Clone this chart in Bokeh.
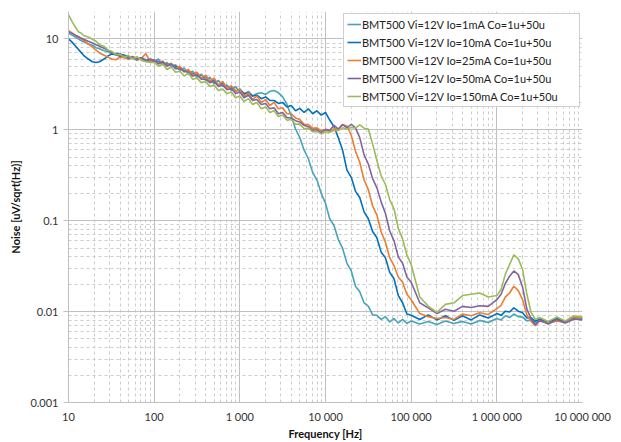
from bokeh.plotting import figure
from bokeh.models import (FixedTicker, CustomJSTickFormatter, Legend, LegendItem,
                          Range1d, ColumnDataSource, InlineStyleSheet)
from bokeh.embed import file_html
from bokeh.resources import INLINE

# ---------------- data ----------------
freq = [10, 11, 12, 13, 14, 15, 17, 19, 21, 23, 26, 29, 32, 36, 40, 45, 50, 56, 63, 71, 80, 90,
        100, 112, 126, 141, 158, 178, 200, 224, 251, 282, 316, 355, 398, 447, 501, 562, 631, 708, 794, 891,
        1000, 1120, 1260, 1410, 1580, 1780, 2000, 2240, 2510, 2820, 3160, 3550, 3980, 4470, 5010, 5620, 6310, 7080, 7940, 8910,
        10000, 11200, 12600, 14100, 15800, 17800, 20000, 22400, 25100, 28200, 31600, 35500, 39800, 44700, 50100, 56200, 63100, 70800, 79400, 89100,
        100000, 126000, 158000, 200000, 251000, 316000, 398000, 501000, 631000, 794000,
        1000000, 1120000, 1260000, 1410000, 1580000, 1780000, 2000000, 2240000, 2510000, 2820000, 3160000, 3980000, 5010000, 6310000, 7940000, 10000000]

noise_io1 = [11.5, 11.0, 10.5, 10.0, 9.6, 9.3, 8.8, 8.5, 8.0, 7.8, 7.4, 7.2, 6.9, 6.6, 6.7, 6.3, 6.0, 6.2, 5.8, 6.1, 5.7, 5.9,
             5.6, 6.0, 5.2, 5.5, 4.9, 5.2, 4.5, 4.8, 4.1, 4.4, 3.8, 4.1, 3.5, 3.8, 3.2, 3.5, 3.0, 3.1, 2.7, 3.0,
             2.6, 2.45, 2.65, 2.35, 2.5, 2.55, 2.45, 2.65, 2.7, 2.55, 2.3, 1.9, 1.42, 1.02, 0.82, 0.6, 0.48, 0.34, 0.28, 0.2,
             0.155, 0.105, 0.088, 0.062, 0.05, 0.034, 0.028, 0.019, 0.0165, 0.0125, 0.0115, 0.0092, 0.0091, 0.0082, 0.0088, 0.0077, 0.0084, 0.0075, 0.0082, 0.0074,
             0.0079, 0.0073, 0.0078, 0.0072, 0.0079, 0.0074, 0.0078, 0.0073, 0.008, 0.0076,
             0.0084, 0.0081, 0.009, 0.0086, 0.0094, 0.0088, 0.0087, 0.0079, 0.0081, 0.0075, 0.008, 0.0074, 0.008, 0.0076, 0.0083, 0.0082]

noise_io10 = [10.0, 9.2, 8.4, 7.7, 7.1, 6.6, 6.0, 5.6, 5.5, 5.6, 6.0, 6.5, 6.8, 6.9, 6.8, 6.6, 6.4, 6.1, 6.0, 6.2, 5.8, 5.7,
              5.8, 5.6, 5.5, 5.2, 5.3, 4.9, 4.9, 4.4, 4.5, 4.1, 4.2, 3.7, 3.9, 3.4, 3.6, 3.1, 3.3, 2.9, 3.0, 2.65,
              2.8, 2.5, 2.55, 2.35, 2.4, 2.2, 2.3, 2.1, 2.1, 1.95, 2.0, 1.78, 1.85, 1.62, 1.72, 1.55, 1.7, 1.5, 1.62, 1.45,
              1.55, 1.28, 1.08, 0.82, 0.6, 0.36, 0.3, 0.21, 0.18, 0.125, 0.105, 0.076, 0.065, 0.045, 0.039, 0.027, 0.023, 0.015, 0.0125, 0.0094,
              0.0091, 0.0082, 0.0092, 0.0081, 0.009, 0.008, 0.009, 0.0081, 0.0092, 0.0085,
              0.0095, 0.0091, 0.0101, 0.0099, 0.011, 0.0101, 0.0097, 0.0085, 0.0086, 0.0078, 0.0083, 0.0076, 0.0084, 0.0077, 0.0086, 0.0085]

noise_io25 = [12.3, 11.6, 11.0, 10.4, 10.0, 9.6, 8.8, 8.1, 7.5, 7.0, 6.6, 6.3, 6.0, 5.9, 6.3, 6.2, 6.0, 6.3, 5.9, 6.1, 6.9, 5.6,
              5.9, 5.4, 5.7, 5.1, 5.4, 4.7, 5.0, 4.3, 4.6, 4.0, 4.3, 3.7, 4.0, 3.4, 3.7, 3.1, 3.4, 2.85, 3.05, 2.65,
              2.8, 2.35, 2.55, 2.15, 2.35, 2.0, 2.15, 1.85, 2.0, 1.7, 1.75, 1.5, 1.5, 1.35, 1.3, 1.15, 1.14, 1.04, 1.05, 0.98,
              1.0, 0.96, 1.03, 1.01, 1.14, 1.1, 0.87, 0.58, 0.44, 0.28, 0.22, 0.145, 0.115, 0.075, 0.058, 0.039, 0.032, 0.024, 0.021, 0.0155,
              0.0135, 0.0095, 0.0088, 0.0084, 0.0086, 0.0082, 0.0094, 0.009, 0.0097, 0.0093,
              0.0108, 0.0117, 0.0145, 0.016, 0.019, 0.017, 0.0135, 0.0092, 0.0078, 0.007, 0.0079, 0.0075, 0.0079, 0.0076, 0.0085, 0.0086]

noise_io50 = [12.0, 11.5, 11.0, 10.6, 10.2, 9.9, 9.4, 9.0, 8.6, 8.3, 7.9, 7.5, 7.1, 6.7, 6.4, 6.6, 6.1, 6.4, 6.0, 6.2, 5.8, 6.0,
              5.8, 5.3, 5.6, 5.0, 5.3, 4.7, 4.7, 4.4, 4.3, 3.9, 4.0, 3.6, 3.6, 3.3, 3.4, 3.0, 3.1, 2.75, 2.85, 2.5,
              2.6, 2.25, 2.4, 2.1, 2.15, 1.9, 1.95, 1.7, 1.75, 1.5, 1.55, 1.36, 1.35, 1.26, 1.22, 1.12, 1.08, 0.99, 1.0, 0.93,
              1.01, 0.99, 1.12, 1.02, 1.14, 1.05, 1.15, 1.05, 0.82, 0.53, 0.42, 0.29, 0.23, 0.16, 0.12, 0.077, 0.06, 0.04, 0.034, 0.024,
              0.021, 0.0125, 0.011, 0.0095, 0.0106, 0.0101, 0.0114, 0.0111, 0.0116, 0.0114,
              0.0135, 0.0155, 0.0205, 0.0245, 0.028, 0.0255, 0.0185, 0.0107, 0.0083, 0.0071, 0.0081, 0.0073, 0.0082, 0.0075, 0.0083, 0.0081]

noise_io150 = [18.4, 15.5, 13.5, 12.0, 11.6, 10.9, 10.5, 9.9, 9.4, 8.6, 8.3, 7.5, 7.3, 6.7, 6.8, 6.2, 6.6, 6.0, 6.4, 5.8, 5.6, 5.5,
               5.5, 5.0, 5.3, 4.6, 4.9, 4.3, 4.4, 3.9, 4.2, 3.6, 3.7, 3.3, 3.4, 3.0, 3.1, 2.7, 2.8, 2.5, 2.6, 2.25,
               2.35, 2.05, 2.2, 1.9, 2.0, 1.7, 1.78, 1.55, 1.62, 1.4, 1.45, 1.27, 1.3, 1.15, 1.16, 1.03, 1.04, 0.95, 0.96, 0.9,
               0.95, 0.94, 0.99, 0.98, 1.05, 1.02, 1.06, 1.05, 1.13, 1.04, 1.02, 0.7, 0.46, 0.31, 0.25, 0.17, 0.135, 0.082, 0.063, 0.042,
               0.033, 0.0145, 0.0115, 0.0098, 0.012, 0.0125, 0.015, 0.0155, 0.016, 0.0145,
               0.015, 0.0175, 0.026, 0.033, 0.042, 0.038, 0.029, 0.0155, 0.0098, 0.0082, 0.0086, 0.0078, 0.0087, 0.0079, 0.009, 0.0087]

series_labels = ["BMT500 Vi=12V Io=1mA Co=1u+50u",
                 "BMT500 Vi=12V Io=10mA Co=1u+50u",
                 "BMT500 Vi=12V Io=25mA Co=1u+50u",
                 "BMT500 Vi=12V Io=50mA Co=1u+50u",
                 "BMT500 Vi=12V Io=150mA Co=1u+50u"]
series_colors = ["#45A3BC", "#0070C0", "#ED7D31", "#8064A2", "#9BBB59"]

x_ticks = [10, 100, 1000, 10000, 100000, 1000000, 10000000]
y_ticks = [0.001, 0.01, 0.1, 1, 10]

# ---------------- figure ----------------
FONT = "Lato"
p = figure(frame_width=514, frame_height=391, x_axis_type="log", y_axis_type="log",
           x_range=Range1d(10, 1e7), y_range=Range1d(0.001, 20),
           output_backend="svg", toolbar_location=None,
           min_border_left=68, min_border_right=33, min_border_top=11, min_border_bottom=35)
p.stylesheets = [InlineStyleSheet(css=":host { outline: 1px solid #a6a6a6; outline-offset: -2px; }")]
p.outline_line_color = None
p.background_fill_color = "white"
p.border_fill_color = "white"

x_minor = [m * 10 ** k for k in range(1, 7) for m in range(2, 10)]
y_minor = [m * 10.0 ** k for k in range(-3, 2) for m in range(2, 10)]
p.xaxis.ticker = FixedTicker(ticks=x_ticks, minor_ticks=x_minor)
p.yaxis.ticker = FixedTicker(ticks=y_ticks, minor_ticks=y_minor)

p.xaxis.formatter = CustomJSTickFormatter(code="""
    return Math.round(tick).toString().replace(/\\B(?=(\\d{3})+(?!\\d))/g, " ");
""")
p.yaxis.formatter = CustomJSTickFormatter(code="""
    return parseFloat(tick.toPrecision(3)).toString();
""")

p.grid.grid_line_color = "#c0c0c0"
p.grid.grid_line_width = 1
p.grid.minor_grid_line_color = "#cccccc"
p.grid.minor_grid_line_dash = "3 3"

for ax in (p.xaxis, p.yaxis):
    ax.axis_line_color = "#bfbfbf"
    ax.minor_tick_line_color = None
    ax.minor_tick_out = 0
    ax.minor_tick_in = 0
    ax.major_label_text_font = FONT
    ax.major_label_text_font_size = "11px"
    ax.major_label_text_color = "#333333"
    ax.axis_label_text_font = FONT
    ax.axis_label_text_font_size = "11px"
    ax.axis_label_text_font_style = "bold"
    ax.axis_label_text_color = "#111111"

p.xaxis.major_tick_line_color = None
p.xaxis.major_tick_out = 0
p.xaxis.major_tick_in = 0
p.xaxis.major_label_standoff = 7
p.xaxis.axis_label_standoff = 1
p.yaxis.major_tick_line_color = "#bfbfbf"
p.yaxis.major_tick_out = 5
p.yaxis.major_tick_in = 0
p.yaxis.major_label_standoff = 5
p.yaxis.axis_label_standoff = 5

p.xaxis.axis_label = "Frequency [Hz]"
p.yaxis.axis_label = "Noise [uV/sqrt(Hz)]"

source = ColumnDataSource(dict(freq=freq, io1=noise_io1, io10=noise_io10, io25=noise_io25,
                               io50=noise_io50, io150=noise_io150))
items = []
for key, lab, col in zip(["io1", "io10", "io25", "io50", "io150"], series_labels, series_colors):
    r = p.line("freq", key, source=source, line_color=col, line_width=1.6)
    items.append(LegendItem(label=lab, renderers=[r]))

legend = Legend(items=items, location="top_right")
legend.margin = 2
legend.padding = 3
legend.spacing = 4
legend.glyph_width = 14
legend.glyph_height = 14
legend.label_height = 14
legend.label_width = 214
legend.label_standoff = 1
legend.label_text_font = FONT
legend.label_text_font_size = "11px"
legend.label_text_color = "#222222"
legend.border_line_color = "#a0a0a0"
legend.background_fill_color = "white"
legend.background_fill_alpha = 1.0
p.add_layout(legend)

open("out.html", "w").write(file_html(p, INLINE))
